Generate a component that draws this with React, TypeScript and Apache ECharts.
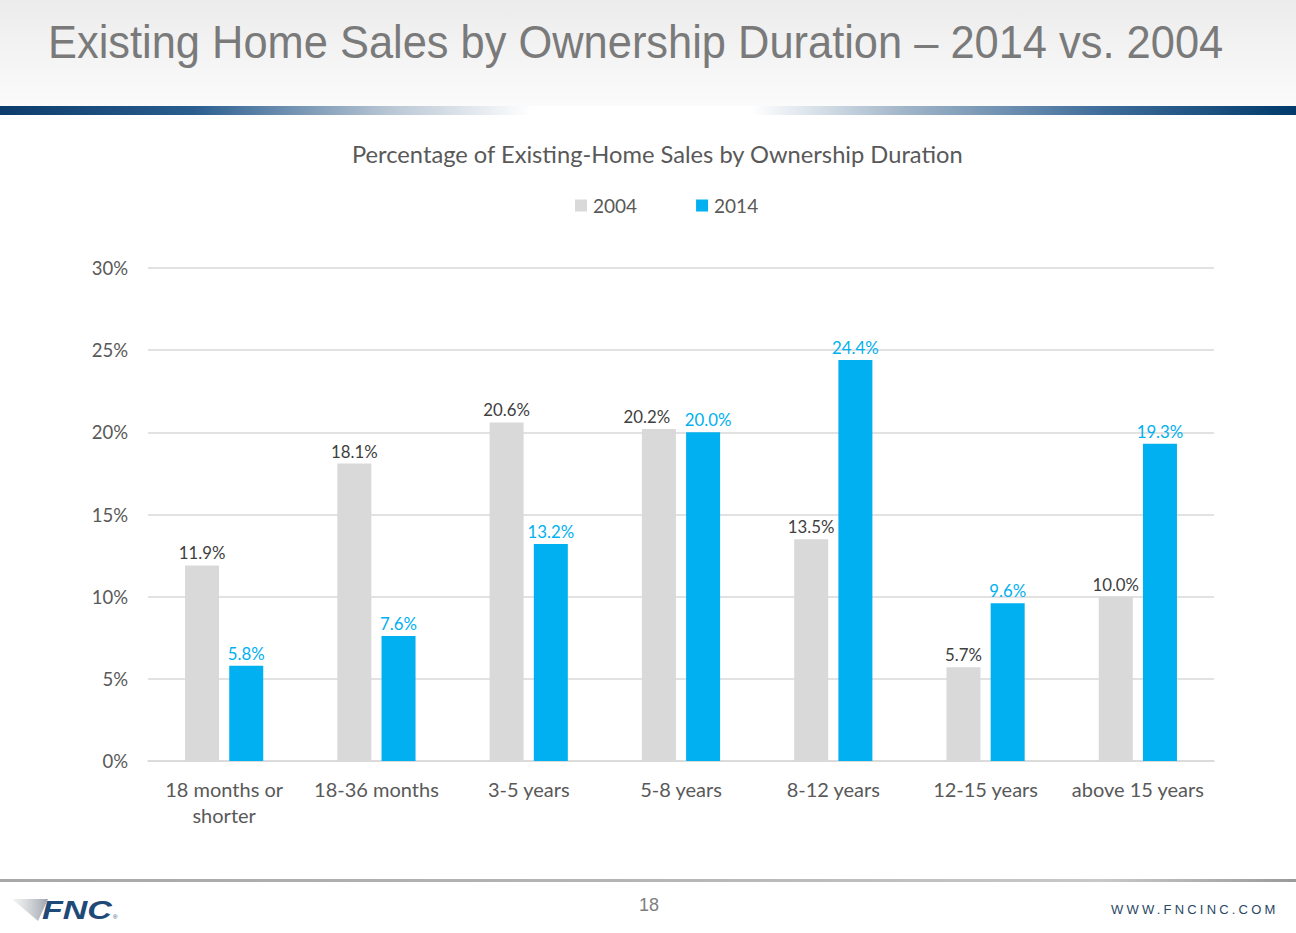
import React, { useEffect, useRef } from "react";
import * as echarts from "echarts";

const categories = ["18 months or\nshorter", "18-36 months", "3-5 years", "5-8 years", "8-12 years", "12-15 years", "above 15 years"];
const values2004 = [11.9, 18.1, 20.6, 20.2, 13.5, 5.7, 10.0];
const values2014 = [5.8, 7.6, 13.2, 20.0, 24.4, 9.6, 19.3];
const seriesNames = ["2004", "2014"];
const yTicks = { min: 0, max: 30, interval: 5 };

const slideTitle = "Existing Home Sales by Ownership Duration – 2014 vs. 2004";
const chartTitle = "Percentage of Existing-Home Sales by Ownership Duration";
const pageNumber = "18";

const FONT = "Lato, 'Open Sans', sans-serif";

// label nudges (style only) to avoid overlapping labels, as in the original
const labelShift2004: Record<number, number> = { 3: -12 };
const labelShift2014: Record<number, number> = { 3: 5 };

export default function App() {
  const ref = useRef<HTMLDivElement>(null);
  useEffect(() => {
    document.body.style.margin = "0";
    const chart = echarts.init(ref.current!, null, { renderer: "svg" });
    const mk = (vals: number[], shift: Record<number, number>) =>
      vals.map((v, i) => (shift[i] !== undefined ? { value: v, label: { offset: [shift[i], 0] } } : v));
    chart.setOption({
      animation: false,
      backgroundColor: "#ffffff",
      title: {
        text: chartTitle,
        left: 347,
        top: 137,
        textStyle: { fontFamily: FONT, fontSize: 23.7, fontWeight: "normal", color: "#595959" },
      },
      legend: {
        top: 191,
        left: 570,
        itemWidth: 12,
        itemHeight: 12,
        itemGap: 59,
        icon: "rect",
        textStyle: { fontFamily: FONT, fontSize: 19, color: "#595959", padding: [0, 0, 0, 1] },
        data: seriesNames,
      },
      grid: { left: 148, right: 82, top: 268, bottom: 172, containLabel: false },
      xAxis: {
        type: "category",
        data: categories,
        axisLine: { lineStyle: { color: "#d9d9d9", width: 1.5 } },
        axisTick: { show: false },
        axisLabel: { fontFamily: FONT, fontSize: 20, color: "#595959", margin: 15, lineHeight: 26, interval: 0 },
      },
      yAxis: {
        type: "value",
        min: yTicks.min,
        max: yTicks.max,
        interval: yTicks.interval,
        axisLine: { show: false },
        axisTick: { show: false },
        splitLine: { lineStyle: { color: "#d9d9d9", width: 1.5 } },
        axisLabel: { fontFamily: FONT, fontSize: 18.5, color: "#595959", margin: 20, formatter: "{value}%" },
      },
      series: [
        {
          name: seriesNames[0],
          type: "bar",
          data: mk(values2004, labelShift2004),
          barWidth: 34,
          barGap: "30%",
          itemStyle: { color: "#d9d9d9" },
          label: {
            show: true,
            position: "top",
            distance: 4,
            fontFamily: FONT,
            fontSize: 16.8,
            color: "#404040",
            formatter: (p: any) => Number(p.value).toFixed(1) + "%",
          },
        },
        {
          name: seriesNames[1],
          type: "bar",
          data: mk(values2014, labelShift2014),
          barWidth: 34,
          barGap: "30%",
          itemStyle: { color: "#00b0f0" },
          label: {
            show: true,
            position: "top",
            distance: 4,
            fontFamily: FONT,
            fontSize: 16.8,
            color: "#00b0f0",
            formatter: (p: any) => Number(p.value).toFixed(1) + "%",
          },
        },
      ],
      graphic: [
        {
          type: "rect",
          shape: { x: 0, y: 0, width: 1296, height: 106 },
          style: {
            fill: new echarts.graphic.LinearGradient(0, 0, 0, 1, [
              { offset: 0, color: "#ececec" },
              { offset: 1, color: "#fbfbfb" },
            ]),
          },
          z: -10,
        },
        {
          type: "rect",
          shape: { x: 0, y: 106, width: 1296, height: 9 },
          style: {
            fill: new echarts.graphic.LinearGradient(0, 0, 1, 0, [
              { offset: 0, color: "#0b3c6c" },
              { offset: 0.15, color: "#2a5e8f" },
              { offset: 0.3, color: "#b8c6d4" },
              { offset: 0.41, color: "#ffffff" },
              { offset: 0.58, color: "#ffffff" },
              { offset: 0.7, color: "#9fb4c8" },
              { offset: 0.85, color: "#3f6d9a" },
              { offset: 1, color: "#003a6b" },
            ]),
          },
        },
        {
          type: "text",
          x: 48,
          y: 42,
          scaleX: 0.944,
          style: {
            text: slideTitle,
            fontFamily: "'Liberation Sans', Arial, sans-serif",
            fontSize: 46,
            fill: "#7a7a7a",
            verticalAlign: "middle",
          },
        },
        {
          type: "rect",
          shape: { x: 0, y: 879, width: 1296, height: 3 },
          style: {
            fill: new echarts.graphic.LinearGradient(0, 0, 1, 0, [
              { offset: 0, color: "#a8a8a8" },
              { offset: 0.5, color: "#b5b5b5" },
              { offset: 0.85, color: "#c8c8c8" },
              { offset: 1, color: "#9a9a9a" },
            ]),
          },
        },
        {
          type: "polygon",
          shape: { points: [[12, 899], [48, 899], [38, 921]] },
          style: {
            fill: new echarts.graphic.LinearGradient(0, 0, 1, 0, [
              { offset: 0, color: "rgba(200,200,200,0.2)" },
              { offset: 1, color: "#9aa4ae" },
            ]),
          },
        },
        {
          type: "text",
          x: 42,
          y: 910,
          scaleX: 1.36,
          style: {
            text: "FNC",
            fontFamily: "'Liberation Sans', Arial, sans-serif",
            fontSize: 25,
            fontWeight: "bold",
            fontStyle: "italic",
            fill: "#1f4a78",
            verticalAlign: "middle",
          },
        },
        {
          type: "text",
          x: 113,
          y: 917,
          style: {
            text: "®",
            fontFamily: "'Liberation Sans', Arial, sans-serif",
            fontSize: 6,
            fill: "#1f4a78",
            verticalAlign: "middle",
          },
        },
        {
          type: "text",
          x: 649,
          y: 905,
          style: {
            text: pageNumber,
            fontFamily: "'Liberation Sans', Arial, sans-serif",
            fontSize: 18,
            fill: "#7f7f7f",
            align: "center",
            verticalAlign: "middle",
          },
        },
      ],
    });
    return () => chart.dispose();
  }, []);
  return (
    <div style={{ position: "relative", width: 1296, height: 933 }}>
      <div ref={ref} style={{ width: 1296, height: 933 }} />
      <div
        style={{
          position: "absolute",
          left: 1111,
          top: 902,
          fontFamily: "'Liberation Sans', Arial, sans-serif",
          fontSize: 13,
          letterSpacing: "3.2px",
          color: "#2b4866",
          lineHeight: "16px",
        }}
      >
        WWW.FNCINC.COM
      </div>
    </div>
  );
}
